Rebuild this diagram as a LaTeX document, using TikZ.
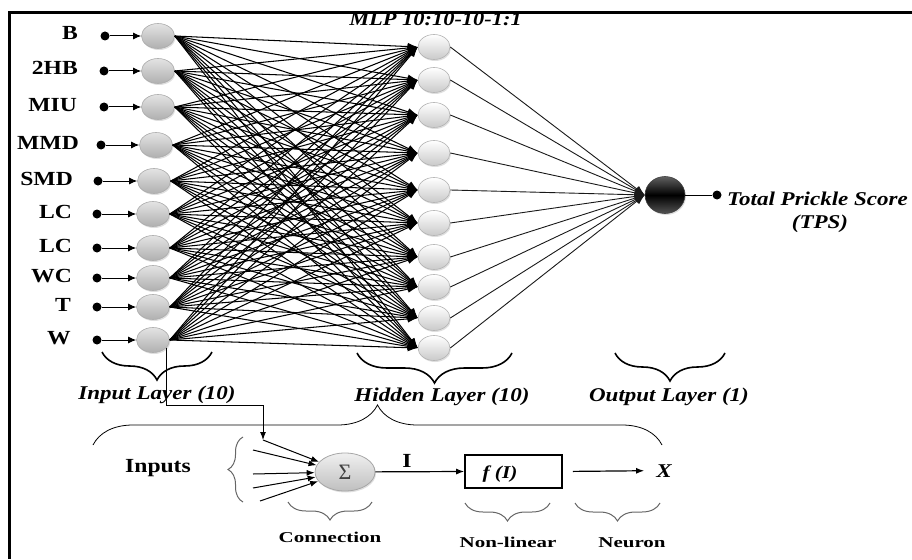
\documentclass[tikz,border=0pt]{standalone}
\usepackage{fontspec}
\setmainfont{Liberation Serif}[FakeStretch=1.18]
\newfontfamily\widefont{Liberation Serif}[FakeStretch=1.4]
\newfontfamily\sigfont{Liberation Serif}
\usetikzlibrary{shapes.geometric,arrows.meta,decorations.pathreplacing,shadows}
\begin{document}
\begin{tikzpicture}[x=1pt,y=-1pt,
  shad/.style={drop shadow={shadow xshift=1pt,shadow yshift=-1.5pt,opacity=0.25}},
  innode/.style={ellipse, draw=gray!65, line width=0.6pt, minimum width=33pt, minimum height=25pt, inner sep=0pt, top color=gray!22, bottom color=gray!62, shad},
  hidnode/.style={ellipse, draw=gray!60, line width=0.6pt, minimum width=32pt, minimum height=25pt, inner sep=0pt, top color=white, bottom color=gray!42, shad},
  outnode/.style={ellipse, draw=black!75, line width=0.6pt, minimum width=40pt, minimum height=37pt, inner sep=0pt, top color=gray!75!black, bottom color=gray!65!black, middle color=black, shad},
  signode/.style={ellipse, draw=gray!70, line width=0.8pt, minimum width=60pt, minimum height=38pt, inner sep=0pt, top color=gray!12, bottom color=gray!50, shad},
  dotnode/.style={circle, fill=black, inner sep=0pt, minimum size=9pt},
  lbl/.style={font=\fontsize{20}{22}\selectfont\bfseries, inner sep=0pt},
  ilbl/.style={font=\fontsize{19.5}{22}\selectfont\bfseries\itshape, inner sep=0pt},
  slbl/.style={font=\widefont\fontsize{15}{17}\selectfont\bfseries, inner sep=0pt},
  inarr/.style={line width=1pt, -{Latex[length=8pt,width=7pt]}},
  conn/.style={line width=1.05pt, black, -{Latex[length=10pt,width=7.5pt]}},
  hoconn/.style={line width=0.9pt, black!90, -{Latex[length=10pt,width=7.5pt]}},
  arr/.style={line width=1pt, -{Latex[length=8pt,width=6pt]}},
  bigbrace/.style={decorate, decoration={brace, amplitude=#1}, line width=1.6pt},
  thinbrace/.style={decorate, decoration={brace, amplitude=#1}, line width=0.8pt},
  graybrace/.style={decorate, decoration={brace, amplitude=#1}, line width=1pt, gray!80!black}
]
\useasboundingbox (0,0) rectangle (912,559);
% frame
\draw[line width=3pt] (9.5,559) -- (9.5,12.5) -- (912,12.5);

% title
\node[ilbl, font=\fontsize{19}{22}\selectfont\bfseries\itshape, anchor=base] (title) at (435.5,26) {MLP 10:10-10-1:1};

% input layer
\foreach \y/\nx/\dx/\lx/\t [count=\i] in {36/158/105/78/B, 71/158/104/78/2HB, 107/158/104/77/MIU, 145/156/101/79/MMD, 181/154/98/73/SMD, 214/153/97/72/LC, 248/153/97/72/LC, 278/153/97/72/WC, 307/153/97/71/T, 340/153/97/71/W}{
  \node[innode] (i\i) at (\nx,\y) {};
  \node[dotnode] (d\i) at (\dx,\y) {};
  \node[lbl, anchor=base east] (l\i) at ({\lx},{\y+4}) {\t};
  \draw[inarr] (d\i) -- (i\i);
}

% hidden layer
\foreach \y [count=\j] in {47,80,115,153,190,223,257,287,318,348}{
  \node[hidnode] (h\j) at (434,\y) {};
}

% output
\node[outnode] (out) at (665,195) {};
\node[dotnode] (tdot) at (717,195) {};
\draw[line width=0.9pt] (out) -- (tdot);
\node[ilbl, anchor=base west] (tps1) at (727,205) {Total Prickle Score};
\node[ilbl, anchor=base] (tps2) at (820,228) {(TPS)};

% connections
\foreach \i in {1,...,10}{
  \foreach \j in {1,...,10}{
    \draw[conn] (i\i.east) -- (h\j.west);
  }
}
\foreach \j in {1,...,10}{
  \draw[hoconn] (h\j.east) -- (out.west);
}

% layer braces
\draw[bigbrace=28pt] (212,352) -- (102,352);
\draw[bigbrace=30pt] (512,353) -- (357,353);
\draw[bigbrace=28pt] (725,353) -- (615,353);
\node[ilbl, anchor=base] (lin) at (157,399) {Input Layer (10)};
\node[ilbl, anchor=base] (lhid) at (442,401) {Hidden Layer (10)};
\node[ilbl, anchor=base] (lout) at (669,401) {Output Layer (1)};

% neuron detail
\draw[thinbrace=40pt] (93,445) -- (662,445);
\node[signode, font=\sigfont\fontsize{22}{24}\selectfont, text=black!75] (sig) at (345,472) {Σ};
\node[lbl, anchor=base] (inputs) at (158,472) {Inputs};
\draw[graybrace=15pt] (243,502) -- (243,437);

\coordinate (s1) at (263,440);
\coordinate (s2) at (253,450);
\coordinate (s3) at (253,474);
\coordinate (s4) at (253,488);
\coordinate (s5) at (260,501);
\foreach \k in {1,...,5}{
  \draw[arr] (s\k) -- (sig);
}
\draw[arr] (i10.-30) -- ++(0,58) -| (s1);

\node[draw, line width=1.6pt, minimum width=97pt, minimum height=33pt, inner sep=0pt] (fbox) at (513.5,471.5) {};
\node[ilbl, font=\fontsize{18}{20}\selectfont\bfseries\itshape, anchor=base] (ftext) at (500,478) {f (I)};
\draw[arr, line width=1.2pt] (sig) -- (fbox.west);
\node[lbl, anchor=base] (ilab) at (407,467) {I};
\node[ilbl, anchor=base] (X) at (664,477) {X};
\draw[arr, line width=1.2pt, shorten <=10pt, shorten >=12pt] (fbox.east) -- (X.west);

\draw[graybrace=18pt] (372,502) -- (288,502);
\draw[graybrace=18pt] (550,503) -- (465,503);
\draw[graybrace=18pt] (660,503) -- (575,503);
\node[slbl, anchor=base] (lconn) at (330,542) {Connection};
\node[slbl, anchor=base] (lnl) at (508,547) {Non-linear};
\node[slbl, anchor=base] (lneu) at (632,547) {Neuron};
\end{tikzpicture}
\end{document}
